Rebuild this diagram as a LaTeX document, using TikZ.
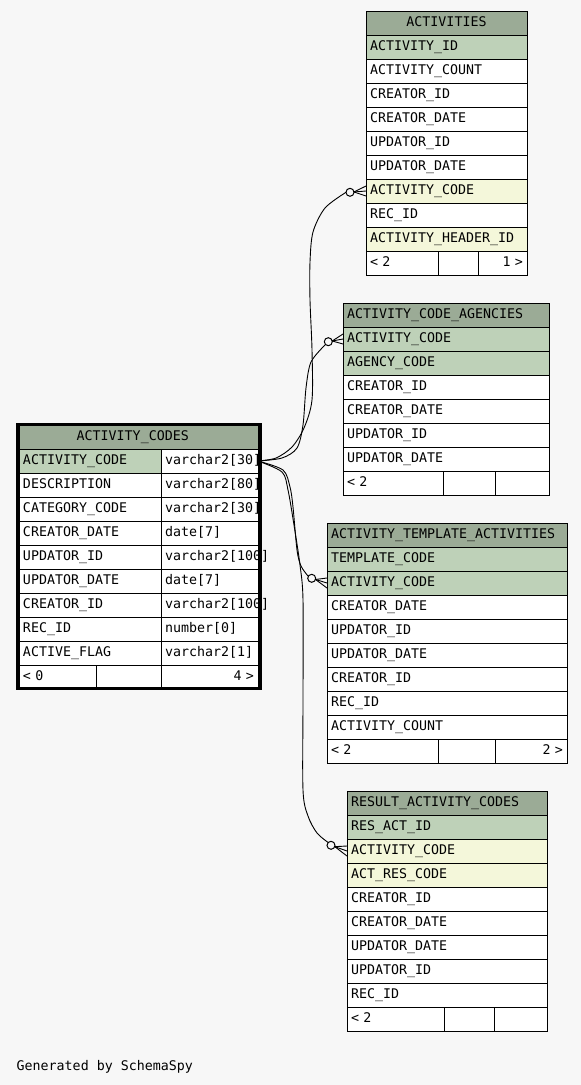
\documentclass[tikz,border=0pt]{standalone}
\usepackage{fontspec}
\setmonofont{DejaVu Sans Mono}
\usetikzlibrary{calc}
\definecolor{bg}{HTML}{F7F7F7}
\definecolor{head}{HTML}{9BAB96}
\definecolor{pk}{HTML}{BED1B8}
\definecolor{idx}{HTML}{F4F7DA}
\newcommand\tfont{\ttfamily\fontsize{13.3}{15}\selectfont}
\newcommand\trow[7]{\pgfmathsetmacro\twid{#4-8}\node[cell,fill=#5,align=#6,text width=\twid pt] (#1) at (#2,#3) {#7};}
\newcommand\crowfoot[2]{%
  \coordinate (tip) at ($(#1)!4pt!(#2)$);
  \draw[conn] (tip) -- ($(#2)+(0,-5)$);
  \draw[conn] (tip) -- (#2);
  \draw[conn] (tip) -- ($(#2)+(0,5)$);}
\begin{document}
\begin{tikzpicture}[x=1pt,y=-1pt,
  cell/.style={draw=black,line width=1pt,anchor=north west,inner xsep=4pt,inner ysep=0pt,
    outer sep=0pt,minimum height=24pt,text height=10pt,text depth=3pt,font=\tfont},
  conn/.style={draw=black,line width=0.9pt},
  optcirc/.style={circle,draw=black,line width=1pt,fill=bg,minimum size=8pt,inner sep=0pt,outer sep=0pt}]
\fill[bg] (0,0) rectangle (581,1085);
\useasboundingbox (0,0) rectangle (581,1085);

% ACTIVITIES
\trow{t1h}{366}{11}{161}{head}{center}{ACTIVITIES}
\trow{t1r1}{366}{35}{161}{pk}{left}{ACTIVITY\_ID}
\trow{t1r2}{366}{59}{161}{white}{left}{ACTIVITY\_COUNT}
\trow{t1r3}{366}{83}{161}{white}{left}{CREATOR\_ID}
\trow{t1r4}{366}{107}{161}{white}{left}{CREATOR\_DATE}
\trow{t1r5}{366}{131}{161}{white}{left}{UPDATOR\_ID}
\trow{t1r6}{366}{155}{161}{white}{left}{UPDATOR\_DATE}
\trow{t1r7}{366}{179}{161}{idx}{left}{ACTIVITY\_CODE}
\trow{t1r8}{366}{203}{161}{white}{left}{REC\_ID}
\trow{t1r9}{366}{227}{161}{idx}{left}{ACTIVITY\_HEADER\_ID}
\trow{t1fa}{366}{251}{72}{white}{left}{< 2}
\trow{t1fb}{438}{251}{40}{white}{left}{}
\trow{t1fc}{478}{251}{49}{white}{right}{1 >}

% ACTIVITY_CODE_AGENCIES
\trow{t2h}{343}{303}{206}{head}{left}{ACTIVITY\_CODE\_AGENCIES}
\trow{t2r1}{343}{327}{206}{pk}{left}{ACTIVITY\_CODE}
\trow{t2r2}{343}{351}{206}{pk}{left}{AGENCY\_CODE}
\trow{t2r3}{343}{375}{206}{white}{left}{CREATOR\_ID}
\trow{t2r4}{343}{399}{206}{white}{left}{CREATOR\_DATE}
\trow{t2r5}{343}{423}{206}{white}{left}{UPDATOR\_ID}
\trow{t2r6}{343}{447}{206}{white}{left}{UPDATOR\_DATE}
\trow{t2fa}{343}{471}{100}{white}{left}{< 2}
\trow{t2fb}{443}{471}{52}{white}{left}{}
\trow{t2fc}{495}{471}{54}{white}{right}{}

% ACTIVITY_TEMPLATE_ACTIVITIES
\trow{t3h}{327}{523}{240}{head}{left}{ACTIVITY\_TEMPLATE\_ACTIVITIES}
\trow{t3r1}{327}{547}{240}{pk}{left}{TEMPLATE\_CODE}
\trow{t3r2}{327}{571}{240}{pk}{left}{ACTIVITY\_CODE}
\trow{t3r3}{327}{595}{240}{white}{left}{CREATOR\_DATE}
\trow{t3r4}{327}{619}{240}{white}{left}{UPDATOR\_ID}
\trow{t3r5}{327}{643}{240}{white}{left}{UPDATOR\_DATE}
\trow{t3r6}{327}{667}{240}{white}{left}{CREATOR\_ID}
\trow{t3r7}{327}{691}{240}{white}{left}{REC\_ID}
\trow{t3r8}{327}{715}{240}{white}{left}{ACTIVITY\_COUNT}
\trow{t3fa}{327}{739}{111}{white}{left}{< 2}
\trow{t3fb}{438}{739}{57}{white}{left}{}
\trow{t3fc}{495}{739}{72}{white}{right}{2 >}

% RESULT_ACTIVITY_CODES
\trow{t4h}{347}{791}{200}{head}{left}{RESULT\_ACTIVITY\_CODES}
\trow{t4r1}{347}{815}{200}{pk}{left}{RES\_ACT\_ID}
\trow{t4r2}{347}{839}{200}{idx}{left}{ACTIVITY\_CODE}
\trow{t4r3}{347}{863}{200}{idx}{left}{ACT\_RES\_CODE}
\trow{t4r4}{347}{887}{200}{white}{left}{CREATOR\_ID}
\trow{t4r5}{347}{911}{200}{white}{left}{CREATOR\_DATE}
\trow{t4r6}{347}{935}{200}{white}{left}{UPDATOR\_DATE}
\trow{t4r7}{347}{959}{200}{white}{left}{UPDATOR\_ID}
\trow{t4r8}{347}{983}{200}{white}{left}{REC\_ID}
\trow{t4fa}{347}{1007}{97}{white}{left}{< 2}
\trow{t4fb}{444}{1007}{50}{white}{left}{}
\trow{t4fc}{494}{1007}{53}{white}{right}{}

% ACTIVITY_CODES
\trow{ach}{19}{425}{239}{head}{left}{\hspace*{53.7pt}ACTIVITY\_CODES}
\trow{ac1a}{19}{449}{142}{pk}{left}{ACTIVITY\_CODE}
\trow{ac1b}{161}{449}{97}{white}{left}{varchar2[30]}
\trow{ac2a}{19}{473}{142}{white}{left}{DESCRIPTION}
\trow{ac2b}{161}{473}{97}{white}{left}{varchar2[80]}
\trow{ac3a}{19}{497}{142}{white}{left}{CATEGORY\_CODE}
\trow{ac3b}{161}{497}{97}{white}{left}{varchar2[30]}
\trow{ac4a}{19}{521}{142}{white}{left}{CREATOR\_DATE}
\trow{ac4b}{161}{521}{97}{white}{left}{date[7]}
\trow{ac5a}{19}{545}{142}{white}{left}{UPDATOR\_ID}
\trow{ac5b}{161}{545}{97}{white}{left}{varchar2[100]}
\trow{ac6a}{19}{569}{142}{white}{left}{UPDATOR\_DATE}
\trow{ac6b}{161}{569}{97}{white}{left}{date[7]}
\trow{ac7a}{19}{593}{142}{white}{left}{CREATOR\_ID}
\trow{ac7b}{161}{593}{97}{white}{left}{varchar2[100]}
\trow{ac8a}{19}{617}{142}{white}{left}{REC\_ID}
\trow{ac8b}{161}{617}{97}{white}{left}{number[0]}
\trow{ac9a}{19}{641}{142}{white}{left}{ACTIVE\_FLAG}
\trow{ac9b}{161}{641}{97}{white}{left}{varchar2[1]}
\trow{acfa}{19}{665}{77}{white}{left}{< 0}
\trow{acfb}{96}{665}{65}{white}{left}{}
\trow{acfc}{161}{665}{97}{white}{right}{4 >}
\draw[line width=3.2pt] (17.6,424.6) rectangle (260,688.4);

% optional-many markers
\node[optcirc] (c1) at (350,192.3) {};
\node[optcirc] (c2) at (328.3,341.7) {};
\node[optcirc] (c3) at (311.7,578.3) {};
\node[optcirc] (c4) at (331,845.3) {};

% connectors
\draw[conn] plot[smooth,tension=0.5] coordinates {(ac1b.east) (276,458) (292,447) (304,428) (312,400) (312,350) (310,300) (310,262) (313,232) (325,208) (c1.west)};
\draw[conn] plot[smooth,tension=0.5] coordinates {(ac1b.east) (282,458) (297,448) (303,425) (306,388) (311,362) (c2.225)};
\draw[conn] plot[smooth,tension=0.5] coordinates {(ac1b.east) (283,470) (290,487) (293,507) (297,550) (301,566) (c3.150)};
\draw[conn] plot[smooth,tension=0.5] coordinates {(ac1b.east) (282,472) (288,490) (294,525) (300,565) (303,600) (303,700) (303,790) (308,816) (317,833) (c4.135)};

\crowfoot{c1}{t1r7.west}
\crowfoot{c2}{t2r1.west}
\crowfoot{c3}{t3r2.west}
\crowfoot{c4}{t4r2.west}

\node[font=\tfont,anchor=base west,inner sep=0pt] (gen) at (16.5,1070.5) {Generated by SchemaSpy};
\end{tikzpicture}
\end{document}
